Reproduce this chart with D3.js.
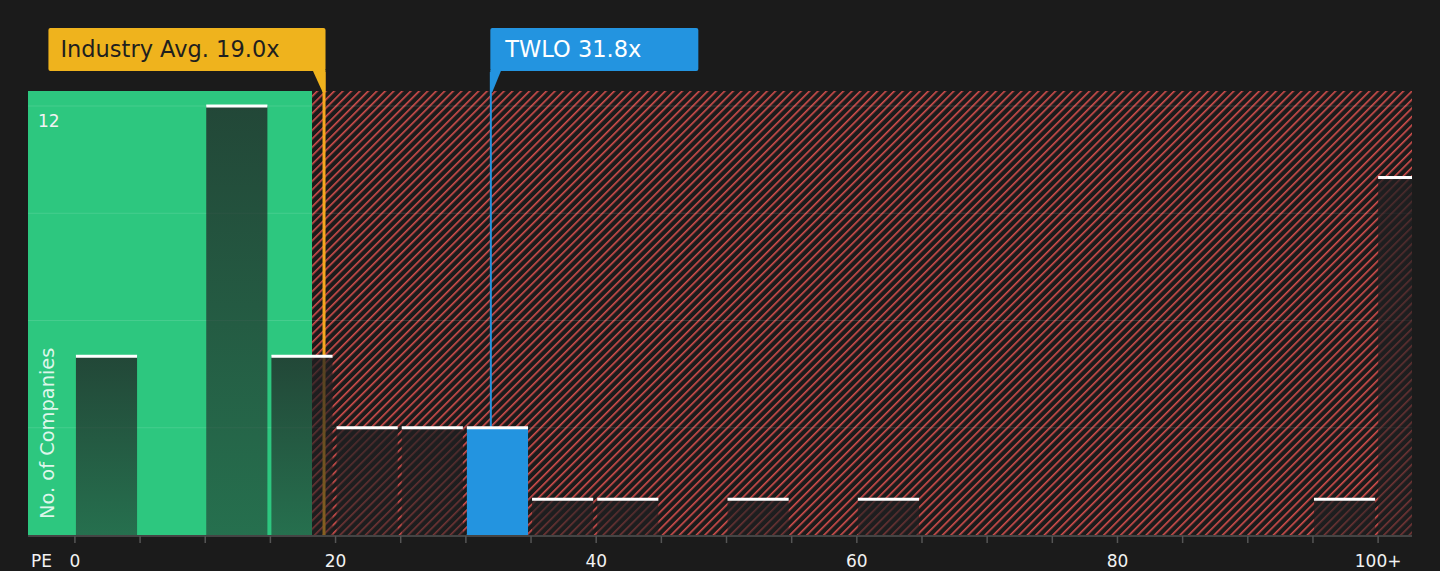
<!DOCTYPE html>
<html>
<head>
<meta charset="utf-8">
<script src="https://cdn.jsdelivr.net/npm/d3@7"></script>
<style>
  html, body { margin: 0; padding: 0; background: #1b1b1b; }
  svg { display: block; font-family: "DejaVu Sans", sans-serif; }
</style>
</head>
<body>
<svg id="chart"></svg>
<script>
// PE bins (lower edge of each 5x bucket, last one is 100+)
const binStarts = [0, 5, 10, 15, 20, 25, 30, 35, 40, 45, 50, 55, 60, 65, 70, 75, 80, 85, 90, 95, 100];
const binCounts = [5, 0, 12, 5, 3, 3, 3, 1, 1, 0, 1, 0, 1, 0, 0, 0, 0, 0, 0, 1, 10];
const tickValues = [0, 20, 40, 60, 80, 100];
const tickLabels = ['0', '20', '40', '60', '80', '100+'];
const gridValues = [3, 6, 9, 12];
const industryAvg = 19.0;
const companyPE = 31.8;
const companyName = 'TWLO';
const fairUpTo = 18.2; // end of the green "good value" band

const W = 1440, H = 571;
const plot = { left: 28, right: 1412, top: 91, bottom: 535 };
const binWidth = 5;

const svg = d3.select('#chart').attr('width', W).attr('height', H);

const x = d3.scaleLinear().domain([-3.6, 102.6]).range([plot.left, plot.right]);
const y = d3.scaleLinear().domain([0, 12.42]).range([plot.bottom, plot.top]);

const defs = svg.append('defs');

// red hatch
const hatch = defs.append('pattern')
  .attr('id', 'hatch')
  .attr('patternUnits', 'userSpaceOnUse')
  .attr('width', 6).attr('height', 6)
  .attr('patternTransform', 'rotate(45)');
hatch.append('rect').attr('width', 6).attr('height', 6).attr('fill', '#1b1b1b');
hatch.append('line')
  .attr('x1', 0).attr('y1', 0).attr('x2', 0).attr('y2', 6)
  .attr('stroke', '#d54f4d').attr('stroke-width', 3.2);

// dark bar overlay
const grad = defs.append('linearGradient')
  .attr('id', 'barShade').attr('x1', 0).attr('y1', 0).attr('x2', 0).attr('y2', 1);
grad.append('stop').attr('offset', '0%').attr('stop-color', '#1f1f21').attr('stop-opacity', 0.76);
grad.append('stop').attr('offset', '100%').attr('stop-color', '#1f1f21').attr('stop-opacity', 0.52);

// background bands
svg.append('rect')
  .attr('x', plot.left).attr('y', plot.top)
  .attr('width', x(fairUpTo) - plot.left)
  .attr('height', plot.bottom - plot.top)
  .attr('fill', '#2dc77f');

svg.append('rect')
  .attr('x', x(fairUpTo)).attr('y', plot.top)
  .attr('width', plot.right - x(fairUpTo))
  .attr('height', plot.bottom - plot.top)
  .attr('fill', 'url(#hatch)');

// grid
svg.append('g')
  .selectAll('line')
  .data(gridValues)
  .enter()
  .append('line')
  .attr('x1', plot.left).attr('x2', plot.right)
  .attr('y1', (d) => y(d)).attr('y2', (d) => y(d))
  .attr('stroke', 'rgba(255,255,255,0.12)')
  .attr('stroke-width', 1);

// reference lines (sit under the bars)
svg.append('line')
  .attr('x1', x(industryAvg) + 1.5).attr('x2', x(industryAvg) + 1.5)
  .attr('y1', 72).attr('y2', plot.bottom)
  .attr('stroke', '#f5a81f').attr('stroke-width', 3);

svg.append('line')
  .attr('x1', x(companyPE) + 1.5).attr('x2', x(companyPE) + 1.5)
  .attr('y1', 72).attr('y2', plot.bottom)
  .attr('stroke', '#2394e0').attr('stroke-width', 2);

// bars
const bins = binStarts.map((s, i) => ({
  x0: s,
  x1: i === binStarts.length - 1 ? x.domain()[1] : s + binWidth,
  count: binCounts[i],
  own: companyPE >= s && companyPE < s + binWidth
}));

const isLast = (d) => d.x1 === x.domain()[1];
const barX = (d) => (isLast(d) ? x(d.x0) : x(d.x0) + 1);
const barW = (d) => (isLast(d) ? x(d.x1) - x(d.x0) : x(d.x1) - x(d.x0) - 4);

const bars = svg.append('g')
  .selectAll('g')
  .data(bins.filter((d) => d.count > 0))
  .enter()
  .append('g');

bars.append('rect')
  .attr('x', barX)
  .attr('y', (d) => y(d.count))
  .attr('width', barW)
  .attr('height', (d) => y(0) - y(d.count))
  .attr('fill', (d) => (d.own ? '#2394e0' : 'url(#barShade)'));

bars.append('rect')
  .attr('x', barX)
  .attr('y', (d) => y(d.count) - 1.5)
  .attr('width', barW)
  .attr('height', 3)
  .attr('fill', '#ffffff');

// x axis
svg.append('line')
  .attr('x1', plot.left).attr('x2', plot.right)
  .attr('y1', plot.bottom + 1).attr('y2', plot.bottom + 1)
  .attr('stroke', '#444').attr('stroke-width', 2);

svg.append('g')
  .selectAll('line')
  .data(binStarts)
  .enter()
  .append('line')
  .attr('x1', (d) => x(d)).attr('x2', (d) => x(d))
  .attr('y1', plot.bottom + 1).attr('y2', plot.bottom + 8)
  .attr('stroke', '#555').attr('stroke-width', 1.5);

svg.append('g')
  .selectAll('text')
  .data(tickValues)
  .enter()
  .append('text')
  .attr('x', (d) => x(d))
  .attr('y', 567)
  .attr('text-anchor', 'middle')
  .style('font-size', '17px')
  .style('fill', '#f2f2f2')
  .text((d, i) => tickLabels[i]);

svg.append('text')
  .attr('x', 31).attr('y', 567)
  .style('font-size', '17px')
  .style('fill', '#f2f2f2')
  .text('PE');

// y annotations
svg.append('text')
  .attr('x', 38).attr('y', y(12) + 21)
  .style('font-size', '17px')
  .style('fill', '#f2f2f2')
  .text('12');

svg.append('text')
  .attr('transform', 'translate(54,519) rotate(-90)')
  .attr('text-anchor', 'start')
  .style('font-size', '19.4px')
  .style('fill', 'rgba(255,255,255,0.85)')
  .text('No. of Companies');

// callout labels
function callout(lineX, label, fill, textFill, side, extra, padL) {
  const g = svg.append('g');
  const t = g.append('text')
    .attr('y', 50)
    .attr('dominant-baseline', 'middle')
    .style('font-size', '22.5px')
    .style('fill', textFill)
    .text(label);
  const tw = t.node().getComputedTextLength();
  const bw = tw + extra;
  const bx = side === 'left' ? lineX + 3 - bw : lineX + 1;
  g.insert('rect', 'text')
    .attr('x', bx).attr('y', 28)
    .attr('width', bw).attr('height', 43)
    .attr('rx', 2)
    .attr('fill', fill);
  const pts = side === 'left'
    ? [[lineX + 3 - 13, 70], [lineX + 3, 70], [lineX + 3, plot.top + 1], [lineX, plot.top + 1]]
    : [[bx, 70], [bx + 11, 70], [bx + 2, plot.top + 1], [bx, plot.top + 1]];
  g.insert('polygon', 'text')
    .attr('points', pts.map((p) => p.join(',')).join(' '))
    .attr('fill', fill);
  t.attr('x', bx + padL);
}

callout(x(industryAvg), `Industry Avg. ${industryAvg.toFixed(1)}x`, '#efb31d', '#1f1f1f', 'left', 58, 12);
callout(x(companyPE), `${companyName} ${companyPE.toFixed(1)}x`, '#2394e0', '#ffffff', 'right', 72, 15);
</script>
</body>
</html>
